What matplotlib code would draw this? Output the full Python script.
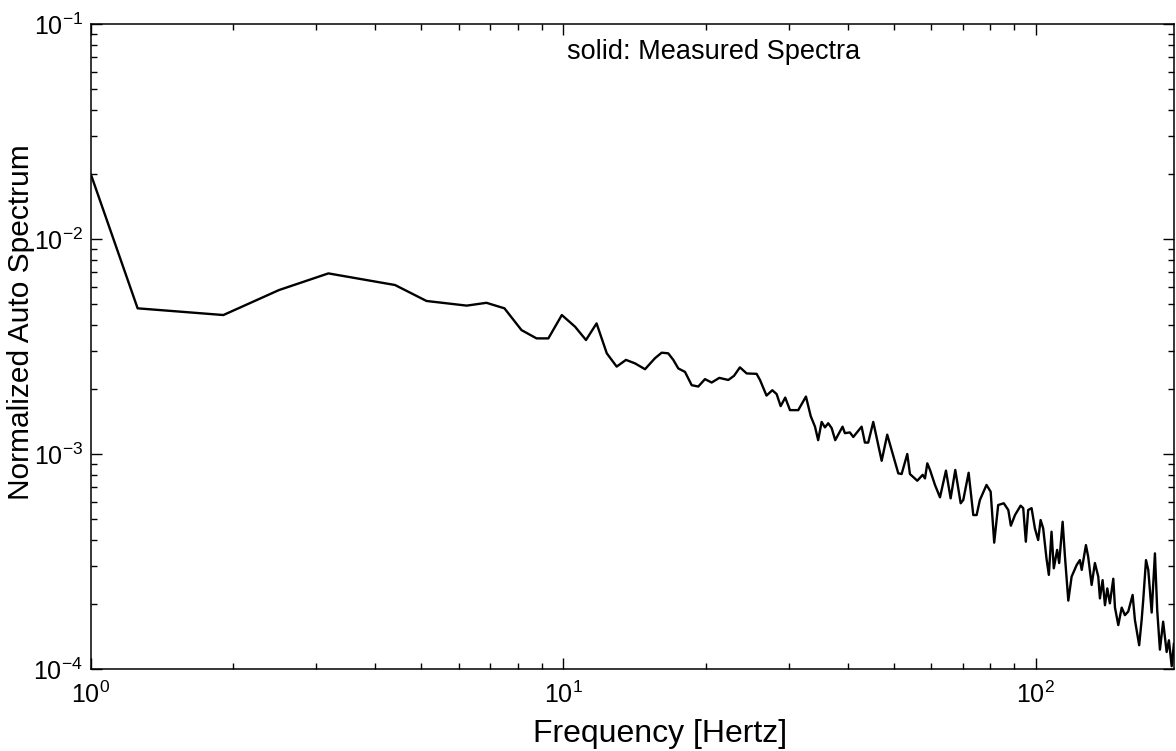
import numpy as np
import matplotlib
matplotlib.use("Agg")
import matplotlib.pyplot as plt
from matplotlib.ticker import FuncFormatter, LogLocator, NullFormatter

plt.rcParams['font.family'] = ['Liberation Sans', 'DejaVu Sans']
plt.rcParams['mathtext.fontset'] = 'custom'
plt.rcParams['mathtext.rm'] = 'Liberation Sans'
plt.rcParams['mathtext.it'] = 'Liberation Sans'

# frequency [Hz]
freq = [1.00, 1.255, 1.906, 2.50, 3.18, 4.40, 5.13, 6.24, 6.87, 7.50,
        8.15, 8.77, 9.29, 9.92, 10.58, 11.16, 11.75, 12.35, 12.96, 13.56,
        14.17, 14.88, 15.62, 16.14, 16.66, 17.08, 17.50, 18.08, 18.68, 19.29,
        19.93, 20.59, 21.37, 22.33, 22.96, 23.63, 24.42, 25.63, 26.06, 26.90,
        27.67, 28.26, 28.82, 29.47, 30.16, 31.40, 32.60, 33.37, 34.07, 34.60,
        35.19, 35.76, 36.34, 36.95, 37.60, 38.97, 39.42, 40.39, 41.06, 42.76,
        43.45, 44.16, 45.26, 47.15, 48.45, 51.13, 51.97, 53.42, 54.12, 56.09,
        57.58, 58.23, 58.90, 59.68, 61.14, 62.65, 64.50, 65.99, 67.50, 69.30,
        70.18, 72.04, 73.69, 74.90, 76.10, 78.60, 80.20, 81.60, 83.20, 85.50,
        87.40, 88.50, 90.30, 92.80, 94.00, 95.20, 96.30, 97.90, 99.50, 101.1,
        102.3, 103.6, 105.3, 106.5, 107.9, 109.1, 110.9, 112.0, 113.9, 115.2,
        117.1, 119.0, 122.0, 123.9, 125.0, 127.6, 129.0, 131.2, 133.3, 135.5,
        136.6, 138.4, 140.0, 141.6, 143.4, 145.8, 147.0, 149.4, 151.9, 154.3,
        156.8, 160.2, 162.0, 165.4, 167.4, 168.7, 171.0, 172.9, 175.8, 178.6,
        180.6, 183.0, 185.9, 189.1, 191.2, 193.8, 195.9]

# normalized auto spectrum, in units of 1e-3
spec = [19.9, 4.76, 4.43, 5.79, 6.92, 6.11, 5.15, 4.90, 5.05, 4.76,
        3.77, 3.45, 3.45, 4.43, 3.91, 3.39, 4.05, 2.94, 2.55, 2.74,
        2.64, 2.48, 2.79, 2.96, 2.94, 2.74, 2.50, 2.41, 2.09, 2.06,
        2.23, 2.15, 2.26, 2.21, 2.31, 2.53, 2.37, 2.36, 2.21, 1.87,
        1.98, 1.90, 1.67, 1.83, 1.60, 1.60, 1.85, 1.50, 1.34, 1.16,
        1.41, 1.33, 1.39, 1.32, 1.16, 1.34, 1.25, 1.26, 1.20, 1.34,
        1.13, 1.13, 1.41, 0.93, 1.23, 0.813, 0.807, 1.00, 0.807, 0.751,
        0.80, 0.77, 0.905, 0.843, 0.718, 0.629, 0.837, 0.622, 0.843, 0.59,
        0.611, 0.818, 0.52, 0.52, 0.611, 0.718, 0.668, 0.387, 0.579, 0.59,
        0.549, 0.464, 0.52, 0.575, 0.56, 0.391, 0.549, 0.56, 0.451, 0.398,
        0.493, 0.451, 0.326, 0.274, 0.435, 0.294, 0.358, 0.311, 0.484, 0.333,
        0.208, 0.269, 0.305, 0.321, 0.289, 0.377, 0.333, 0.246, 0.311, 0.269,
        0.213, 0.259, 0.198, 0.237, 0.202, 0.263, 0.193, 0.16, 0.193, 0.178,
        0.185, 0.221, 0.169, 0.129, 0.169, 0.209, 0.321, 0.289, 0.183, 0.345,
        0.188, 0.123, 0.166, 0.12, 0.136, 0.103, 0.131]

f = np.array(freq)
s = np.array(spec) * 1e-3

fig = plt.figure(figsize=(11.76, 7.51), dpi=100)
ax = fig.add_axes([0.0774, 0.1092, 0.9209, 0.8588])
ax.loglog(f, s, color='black', linewidth=1.7)
ax.set_xlim(1, 196)
ax.set_ylim(1e-4, 1e-1)

fmt = FuncFormatter(lambda v, _: r'$\mathregular{10^{%d}}$' % round(np.log10(v)))
ax.xaxis.set_major_formatter(fmt)
ax.yaxis.set_major_formatter(fmt)
ax.xaxis.set_minor_formatter(NullFormatter())
ax.yaxis.set_minor_formatter(NullFormatter())
ax.xaxis.set_major_locator(LogLocator(base=10, numticks=10))
ax.yaxis.set_major_locator(LogLocator(base=10, numticks=10))
ax.xaxis.set_minor_locator(LogLocator(base=10, subs=np.arange(2, 10), numticks=20))
ax.yaxis.set_minor_locator(LogLocator(base=10, subs=np.arange(2, 10), numticks=20))

ax.tick_params(which='both', direction='in', top=True, right=True, labelsize=18, width=1.0)
ax.tick_params(which='major', length=8)
ax.tick_params(axis='x', which='major', pad=9)
ax.tick_params(axis='y', which='major', pad=6)
ax.tick_params(which='minor', length=4)
for sp in ax.spines.values():
    sp.set_linewidth(1.1)

ax.set_xlabel('Frequency [Hertz]', fontsize=23)
ax.set_ylabel('Normalized Auto Spectrum', fontsize=21.5)
ax.xaxis.set_label_coords(0.525, -0.078)
ax.yaxis.set_label_coords(-0.052, 0.538)
ax.text(0.575, 0.957, 'solid: Measured Spectra', transform=ax.transAxes,
        ha='center', va='center', fontsize=19.5)

fig.savefig('out.png', dpi=100)
